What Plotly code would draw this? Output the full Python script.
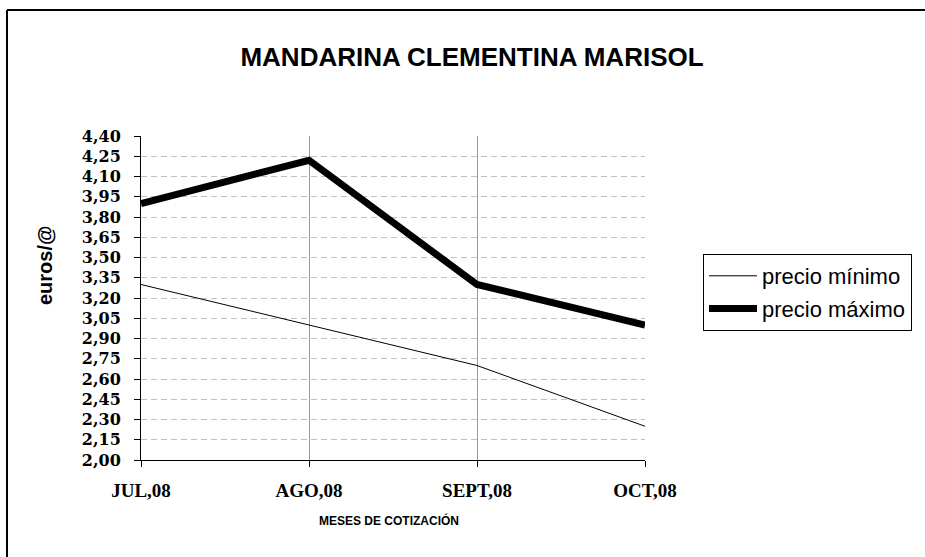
import plotly.graph_objects as go

categories = ["JUL,08", "AGO,08", "SEPT,08", "OCT,08"]
precio_minimo = [3.30, 3.00, 2.70, 2.25]
precio_maximo = [3.90, 4.22, 3.30, 3.00]
series_names = ["precio mínimo", "precio máximo"]

W, H = 925, 557
L, R, T, B = 141, 645, 136, 460

def px(x):
    return (x - L) / (R - L)

def py(y):
    return (B - y) / (B - T)

fig = go.Figure()
fig.add_trace(go.Scatter(x=categories, y=precio_minimo, mode="lines", name=series_names[0],
                         line=dict(color="black", width=1), legendgroup="a"))
fig.add_trace(go.Scatter(x=categories, y=precio_maximo, mode="lines", name=series_names[1],
                         line=dict(color="black", width=7), legendgroup="b"))

fig.update_layout(
    width=W, height=H,
    margin=dict(l=L, r=W - R, t=T, b=H - B, pad=0),
    paper_bgcolor="white", plot_bgcolor="white",
    separators=",.",
    showlegend=True,
    legend=dict(x=px(703), y=py(254), xanchor="left", yanchor="top",
                bordercolor="black", borderwidth=1, bgcolor="white",
                font=dict(family="Liberation Sans, Arial", size=22, color="black"),
                tracegroupgap=1, itemwidth=48),
    title=dict(text="<b>MANDARINA CLEMENTINA MARISOL</b>", xref="container", x=472 / W, xanchor="center",
               yref="container", y=1 - 57 / H, yanchor="middle",
               font=dict(family="Liberation Sans, Arial", size=26, color="black")),
    xaxis=dict(type="category", range=[0, 3], showgrid=True, gridcolor="#999999", gridwidth=1,
               showline=True, linecolor="black", linewidth=1,
               ticks="outside", ticklen=6, tickcolor="black", ticklabelstandoff=7,
               tickfont=dict(family="Liberation Serif, Times New Roman", size=19, color="black", weight="bold"),
               zeroline=False),
    yaxis=dict(range=[2.0, 4.40], tick0=2.0, dtick=0.15, tickformat=".2f",
               showgrid=True, gridcolor="#c0c0c0", gridwidth=1, griddash="6px,4px",
               showline=True, linecolor="black", linewidth=1,
               ticks="outside", ticklen=6, tickcolor="black", ticklabelstandoff=10,
               tickfont=dict(family="DejaVu Serif", size=16, color="black", weight="bold"),
               zeroline=False),
)

fig.add_annotation(text="<b>euros/@</b>", xref="paper", yref="paper", x=px(45), y=py(265),
                   xanchor="center", yanchor="middle",
                   textangle=-90, showarrow=False,
                   font=dict(family="Liberation Sans, Arial", size=20, color="black"))
fig.add_annotation(text="<b>MESES DE COTIZACIÓN</b>", xref="paper", yref="paper", x=px(389), y=py(520),
                   xanchor="center", yanchor="middle", showarrow=False,
                   font=dict(family="Liberation Sans, Arial", size=12, color="black"))

# outer chart frame: only left and top edges fall inside the picture
frame = dict(color="black", width=2)
fig.add_shape(type="line", xref="paper", yref="paper", x0=px(7), y0=py(10), x1=px(7), y1=py(580), line=frame)
fig.add_shape(type="line", xref="paper", yref="paper", x0=px(7), y0=py(10), x1=px(960), y1=py(10), line=frame)
# white strip at the right edge of the picture (no frame there in the reference)
fig.add_shape(type="rect", xref="paper", yref="paper", x0=px(914), y0=py(600), x1=px(940), y1=py(12),
              line=dict(width=0), fillcolor="white", layer="above")

fig.write_html("out.html", config={"displayModeBar": False},
               post_script="document.documentElement.style.margin='0';document.documentElement.style.padding='0';"
                           "document.documentElement.style.overflow='hidden';"
                           "document.body.style.margin='0';document.body.style.padding='0';"
                           "document.body.style.overflow='hidden';")
